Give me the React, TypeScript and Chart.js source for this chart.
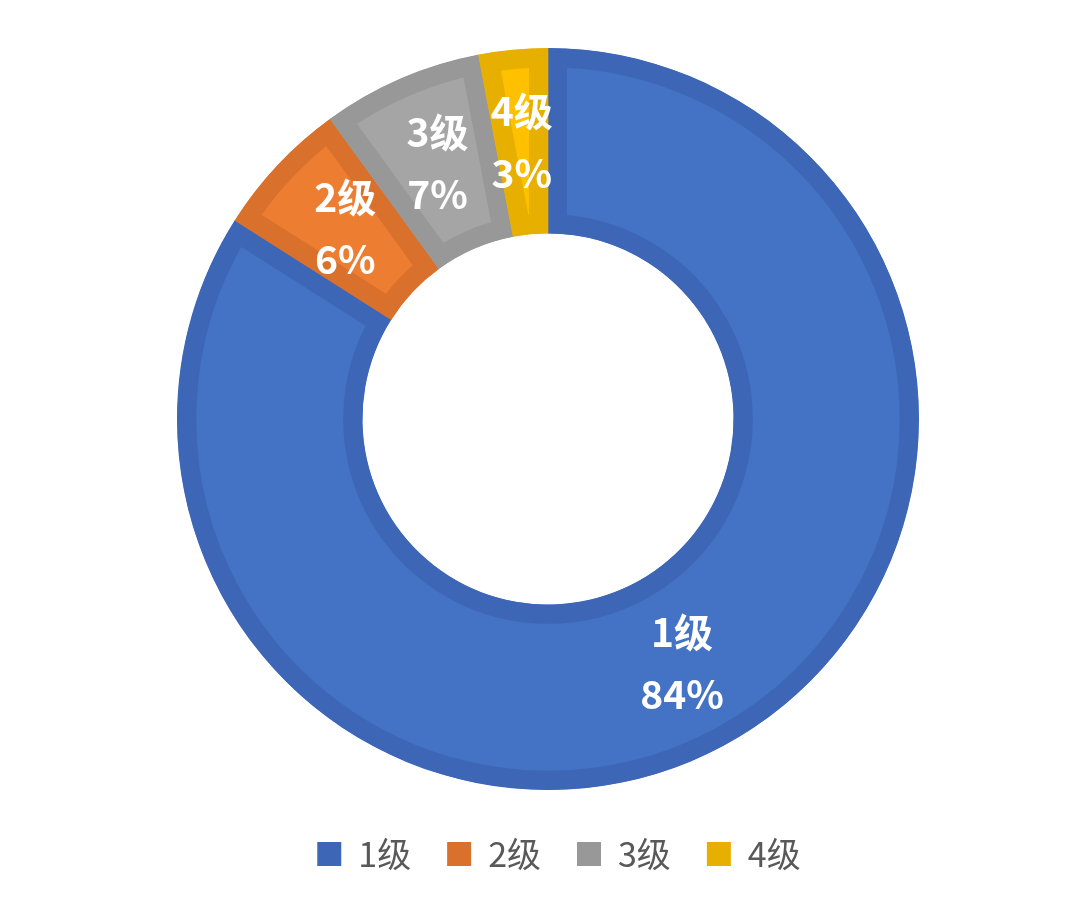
import React, { useEffect, useRef } from "react";
import { Chart, registerables } from "chart.js";

Chart.register(...registerables);

const categories = ["1级", "2级", "3级", "4级"];
const values = [84, 6, 7, 3];
const percentLabels = ["84%", "6%", "7%", "3%"];
const fillColors = ["#4472C4", "#ED7D31", "#A5A5A5", "#FFC000"];
const bandColors = ["#3D67B6", "#D9712C", "#989898", "#E7AF00"];

const FONT = "'Noto Sans CJK SC', 'Noto Sans', sans-serif";

const sliceLabelPlugin = {
  id: "sliceLabels",
  afterDatasetsDraw(chart: any) {
    const ctx = chart.ctx;
    const meta = chart.getDatasetMeta(0);
    ctx.save();
    ctx.fillStyle = "#FFFFFF";
    ctx.textAlign = "center";
    ctx.textBaseline = "middle";
    ctx.font = `bold 39px ${FONT}`;
    meta.data.forEach((arc: any, i: number) => {
      const p = arc.tooltipPosition();
      ctx.fillText(categories[i], p.x, p.y - 31);
      ctx.fillText(percentLabels[i], p.x, p.y + 31);
    });
    ctx.restore();
  },
};

const legendShiftPlugin = {
  id: "legendShift",
  afterLayout(chart: any) {
    const lg = chart.legend;
    if (lg) {
      lg.left += 11;
      lg.right += 11;
    }
  },
};

export default function App() {
  const canvasRef = useRef<HTMLCanvasElement | null>(null);

  useEffect(() => {
    if (!canvasRef.current) return;
    const chart = new Chart(canvasRef.current, {
      type: "doughnut",
      data: {
        labels: categories,
        datasets: [
          {
            data: values,
            backgroundColor: fillColors,
            borderColor: bandColors,
            borderWidth: 19,
            borderAlign: "inner",
            borderJoinStyle: "miter",
          } as any,
        ],
      },
      options: {
        responsive: false,
        animation: false,
        events: [],
        radius: 371,
        cutout: "50%",
        layout: { padding: { top: 37, left: 16, right: 0, bottom: 0 } },
        plugins: {
          tooltip: { enabled: false },
          legend: {
            position: "bottom",
            labels: {
              boxWidth: 24,
              boxHeight: 24,
              padding: 36,
              color: "#595959",
              font: { family: FONT, size: 34 },
              generateLabels: () =>
                categories.map((c, i) => ({
                  text: c,
                  fillStyle: bandColors[i],
                  strokeStyle: bandColors[i],
                  lineWidth: 0,
                  hidden: false,
                  index: i,
                  fontColor: "#595959",
                })),
            },
          },
        },
      } as any,
      plugins: [sliceLabelPlugin, legendShiftPlugin],
    });
    return () => chart.destroy();
  }, []);

  return (
    <div
      style={{
        position: "fixed",
        left: 0,
        top: 0,
        width: 1080,
        height: 898,
        overflow: "hidden",
        background: "#FFFFFF",
      }}
    >
      <canvas ref={canvasRef} width={1080} height={881} style={{ width: 1080, height: 881, display: "block" }} />
    </div>
  );
}
